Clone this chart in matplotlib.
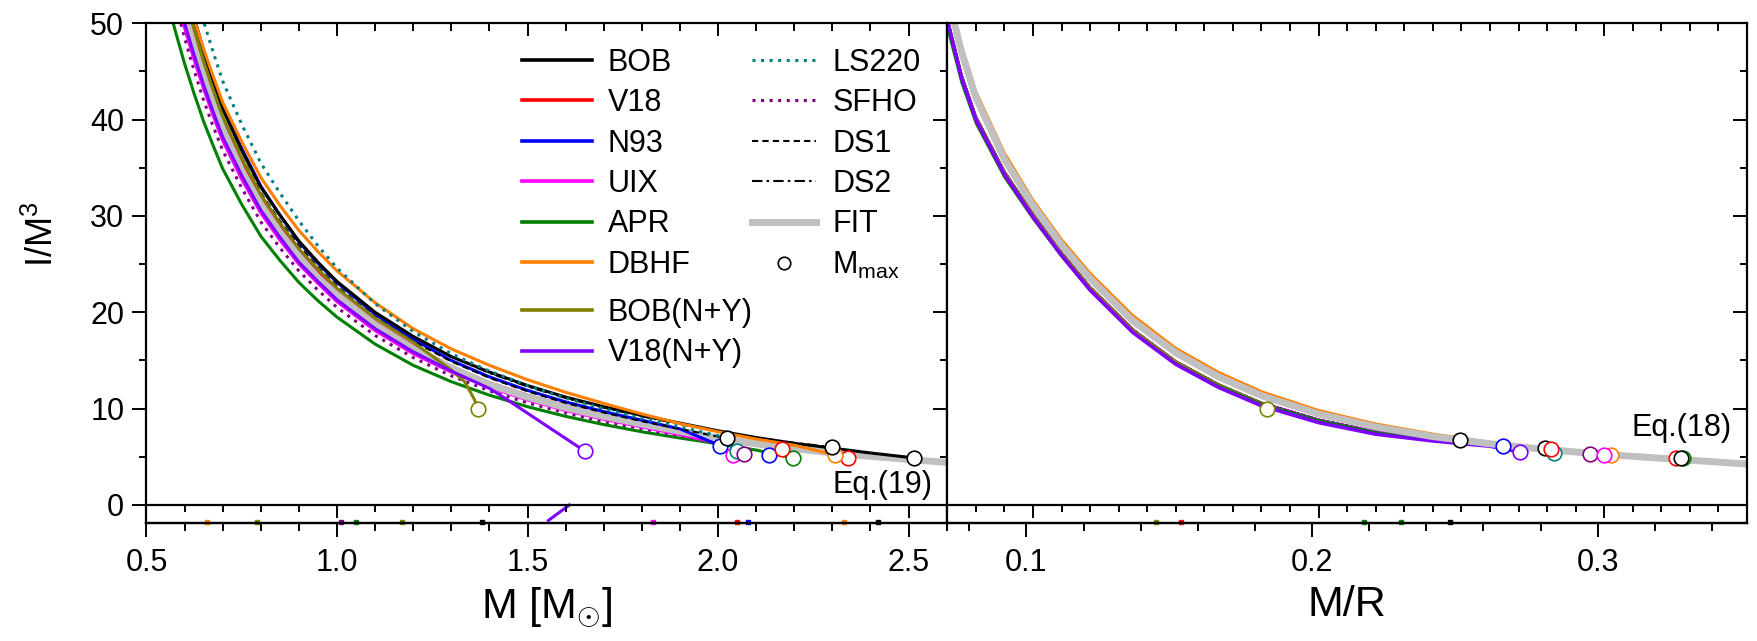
import matplotlib.pyplot as plt
from matplotlib.lines import Line2D
from matplotlib.ticker import MultipleLocator

plt.rcParams['font.family'] = ['Liberation Sans', 'DejaVu Sans']
plt.rcParams['mathtext.fontset'] = 'custom'
plt.rcParams['mathtext.rm'] = 'Liberation Sans'
plt.rcParams['mathtext.it'] = 'Liberation Sans:italic'

# ---- left panel: I/M^3 versus M ----
m_grid = [0.55, 0.575, 0.60, 0.625, 0.65, 0.675, 0.70, 0.75, 0.80, 0.85, 0.90, 0.95,
          1.00, 1.10, 1.20, 1.30, 1.40, 1.50, 1.60, 1.70, 1.80, 1.90, 2.00, 2.10,
          2.20, 2.30, 2.40, 2.50, 2.60]

fit_m = [59, 55, 51, 47.6, 44.5, 41.6, 39, 34.7, 31.2, 28.3, 25.8, 23.6,
         21.8, 18.7, 16.2, 14.2, 12.5, 11.2, 10.1, 9.2, 8.4, 7.65, 6.95, 6.35,
         5.85, 5.4, 5.05, 4.72, 4.42]
bob_m = [62, 57.9, 54, 50.4, 47, 44.0, 41.1, 36.8, 33.0, 30.1, 27.4, 25.2,
         23.2, 20.0, 17.5, 15.4, 13.8, 12.4, 11.2, 10.2, 9.3, 8.5, 7.7, 7.0,
         6.4, 5.9, 5.4, 4.95]
v18_m = [60, 55.9, 52, 48.5, 45.2, 42.3, 39.6, 35.4, 31.7, 28.8, 26.2, 24.1,
         22.1, 19.0, 16.5, 14.4, 12.7, 11.4, 10.3, 9.35, 8.5, 7.8, 7.1, 6.5,
         5.95, 5.4]
n93_m = [62.5, 58.2, 54.2, 50.6, 47.2, 44.2, 41.3, 37.0, 33.1, 30.1, 27.3, 25.1,
         23.1, 19.8, 17.2, 15.0, 13.3, 11.9, 10.7, 9.7, 8.8, 7.9]
uix_m = [57.3, 53.3, 49.5, 46.2, 43.2, 40.4, 37.8, 33.8, 30.3, 27.5, 25.0, 23.0,
         21.1, 18.1, 15.7, 13.8, 12.2, 10.9, 9.8, 8.9, 8.1, 7.3, 6.4]
apr_m = [53, 49.3, 45.8, 42.7, 39.8, 37.3, 34.9, 31.2, 27.9, 25.4, 23.1, 21.2,
         19.5, 16.7, 14.5, 12.8, 11.4, 10.2, 9.2, 8.35, 7.6, 6.95, 6.35, 5.7]
dbhf_m = [62, 57.9, 54, 50.5, 47.3, 44.5, 41.8, 37.7, 34.0, 31.1, 28.5, 26.3,
          24.3, 21.0, 18.3, 16.2, 14.5, 13.0, 11.7, 10.55, 9.45, 8.45, 7.6, 6.85,
          6.2]
ls220_m = [66, 61.6, 57.5, 53.7, 50.2, 47.0, 44.0, 39.5, 35.5, 32.4, 29.5, 26.9,
           24.6, 20.9, 18.0, 15.7, 13.9, 12.4, 11.1, 10.0, 9.0, 8.1, 7.2]
sfho_m = [56.5, 52.3, 48.5, 45.1, 42.0, 39.3, 36.8, 32.9, 29.4, 26.7, 24.3, 22.3,
          20.5, 17.6, 15.3, 13.4, 11.85, 10.6, 9.55, 8.65, 7.9, 7.2, 6.5]
ds1_m = [61, 56.9, 53, 49.4, 46, 43.1, 40.3, 36.1, 32.4, 29.5, 26.9, 24.7,
         22.7, 19.5, 17.0, 14.9, 13.2, 11.8, 10.6, 9.6, 8.7, 7.9, 7.1]
ds2_m = [62, 57.9, 54, 50.4, 47, 44.0, 41.1, 36.8, 33.0, 30.1, 27.4, 25.2,
         23.2, 20.0, 17.5, 15.4, 13.7, 12.3, 11.1, 10.1, 9.2, 8.4, 7.65, 7.0,
         6.45]
bobny_mx = [0.55, 0.575, 0.60, 0.625, 0.65, 0.675, 0.70, 0.75, 0.80, 0.85, 0.90, 0.95,
            1.00, 1.10, 1.20, 1.30, 1.335, 1.36, 1.37]
bobny_my = [61, 57, 53, 49.4, 46, 43.1, 40.3, 36.0, 32.2, 29.3, 26.6, 24.5,
            22.5, 19.4, 16.9, 14.0, 12.8, 11.0, 10.0]
v18ny_mx = [0.55, 0.575, 0.60, 0.625, 0.65, 0.675, 0.70, 0.75, 0.80, 0.85, 0.90, 0.95,
            1.00, 1.10, 1.20, 1.30, 1.40, 1.44, 1.65]
v18ny_my = [57.5, 53.6, 50, 46.7, 43.6, 40.8, 38.2, 34.2, 30.6, 27.8, 25.2, 23.2,
            21.3, 18.3, 15.9, 13.9, 12.1, 11.1, 5.6]
v18ny_tail_mx = [1.61, 1.555]
v18ny_tail_my = [0.0, -1.6]

# end points (mass, I/M^3) of the left panel curves
end_bob_m = (2.515, 4.87)
end_v18_m = (2.342, 4.87)
end_n93_m = (2.006, 6.15)
end_uix_m = (2.04, 5.2)
end_apr_m = (2.198, 4.87)
end_dbhf_m = (2.307, 5.2)
end_ls220_m = (2.049, 5.56)
end_sfho_m = (2.067, 5.3)
end_ds1_m = (2.023, 6.95)
end_ds2_m = (2.30, 6.0)

# maximum-mass configurations (left panel)
mmax_m_x = [2.515, 2.342, 2.006, 2.04, 2.198, 2.307, 2.049, 2.067, 2.023, 2.30, 2.135, 2.167]
mmax_m_y = [4.87, 4.87, 6.15, 5.2, 4.87, 5.2, 5.56, 5.3, 6.95, 6.0, 5.15, 5.8]
mmax_m_c = ['#000000', '#ff0000', '#0000ff', '#ff00ff', '#008000', '#ff8000',
            '#008080', '#800080', '#000000', '#000000', '#0000ff', '#ff0000']

# clipped marker remnants sitting on the bottom axis line
bits_m_x = [0.66, 0.79, 1.01, 1.05, 1.17, 1.38, 1.83, 2.05, 2.08, 2.33, 2.42]
bits_m_c = ['#ff8000', '#808000', '#800080', '#008000', '#808000', '#000000',
            '#ff00ff', '#ff0000', '#0000ff', '#ff8000', '#000000']
bits_c_x = [0.143, 0.152, 0.216, 0.229, 0.246]
bits_c_c = ['#808000', '#ff0000', '#008000', '#008000', '#000000']

# ---- right panel: I/M^3 versus compactness M/R ----
c_grid = [0.070, 0.075, 0.080, 0.090, 0.100, 0.110, 0.120, 0.135, 0.150, 0.165,
          0.180, 0.200, 0.220, 0.240, 0.260, 0.280, 0.300, 0.320, 0.340, 0.350]
fit_c = [53.0, 47.0, 42.3, 35.9, 31.1, 27.0, 23.5, 19.1, 15.8, 13.3,
         11.35, 9.45, 8.1, 7.1, 6.35, 5.75, 5.25, 4.85, 4.45, 4.25]
band_c = [50.5, 44.6, 40.3, 34.6, 30.2, 26.2, 22.6, 18.2, 14.9, 12.5,
          10.6, 8.85, 7.6, 6.85, 6.3, 5.75, 5.25, 4.95]
dbhf_c = [53.8, 47.8, 43.0, 36.6, 31.7, 27.6, 24.1, 19.7, 16.3, 13.8,
          11.8, 9.85, 8.45, 7.4, 6.55, 5.9]
apr_c = [49.5, 43.8, 39.6, 34.0, 29.7, 25.8, 22.3, 17.9, 14.7, 12.35,
         10.5, 8.8, 7.55, 6.8, 6.25, 5.7, 5.2, 4.92]
v18ny_c = [50.3, 44.3, 40.0, 34.3, 29.9, 25.9, 22.3, 17.9, 14.6, 12.2,
           10.3, 8.55, 7.35, 6.65, 6.1]

# end points (compactness, I/M^3) for each EOS in the right panel
end_bob_c = (0.327, 4.87)
end_v18_c = (0.3253, 4.87)
end_n93_c = (0.2646, 6.08)
end_uix_c = (0.300, 5.2)
end_apr_c = (0.3275, 4.87)
end_dbhf_c = (0.3025, 5.2)
end_bobny_c = (0.1821, 10.0)
end_v18ny_c = (0.2705, 5.5)
end_ls220_c = (0.2826, 5.35)
end_sfho_c = (0.2949, 5.3)
end_ds1_c = (0.2494, 6.74)
end_ds2_c = (0.2794, 5.9)
extra_red_c = (0.2815, 5.8)

BLACK, RED, BLUE, MAG = '#000000', '#ff0000', '#0000ff', '#ff00ff'
GREEN, ORANGE, OLIVE, VIOLET = '#008000', '#ff8000', '#808000', '#8000ff'
TEAL, PURPLE, GREY = '#008080', '#800080', '#c0c0c0'
DOT = (0, (1, 1.8))
DASH = (0, (3, 2))
DASHDOT = (0, (5, 2, 1.2, 2))

YMIN, YMAX = -1.87, 50

fig = plt.figure(figsize=(17.58, 6.41), dpi=100)
ax1 = fig.add_axes([0.08333, 0.18409, 0.45535, 0.77956])
ax2 = fig.add_axes([0.53885, 0.18409, 0.45489, 0.77956])


def curve(ax, grid, vals, end, **kw):
    xs = list(grid[:len(vals)]) + [end[0]]
    ys = list(vals) + [end[1]]
    ax.plot(xs, ys, solid_capstyle='butt', **kw)


def circle(ax, x, y, col):
    ax.plot(x, y, ls='none', marker='o', ms=10.5, mfc='white', mec=col, mew=1.2, zorder=5)


# left panel curves
lw = 2.2
curve(ax1, m_grid, v18_m, end_v18_m, color=RED, lw=lw)
curve(ax1, m_grid, apr_m, end_apr_m, color=GREEN, lw=lw)
curve(ax1, m_grid, sfho_m, end_sfho_m, color=PURPLE, lw=lw, ls=DOT)
curve(ax1, m_grid, uix_m, end_uix_m, color=MAG, lw=lw)
ax1.plot(m_grid, fit_m, color=GREY, lw=5, solid_capstyle='butt')
curve(ax1, m_grid, n93_m, end_n93_m, color=BLUE, lw=lw)
curve(ax1, m_grid, ds1_m, end_ds1_m, color=BLACK, lw=1.5, ls=DASH)
curve(ax1, m_grid, ds2_m, end_ds2_m, color=BLACK, lw=1.5, ls=DASHDOT)
curve(ax1, m_grid, bob_m, end_bob_m, color=BLACK, lw=lw)
curve(ax1, m_grid, dbhf_m, end_dbhf_m, color=ORANGE, lw=lw)
curve(ax1, m_grid, ls220_m, end_ls220_m, color=TEAL, lw=lw, ls=DOT)
ax1.plot(bobny_mx, bobny_my, color=OLIVE, lw=lw)
ax1.plot(v18ny_mx, v18ny_my, color=VIOLET, lw=lw)
ax1.plot(v18ny_tail_mx, v18ny_tail_my, color=VIOLET, lw=lw)
for x, y, c in zip(mmax_m_x, mmax_m_y, mmax_m_c):
    circle(ax1, x, y, c)
circle(ax1, bobny_mx[-1], bobny_my[-1], OLIVE)
circle(ax1, v18ny_mx[-1], v18ny_my[-1], VIOLET)
for x, c in zip(bits_m_x, bits_m_c):
    ax1.plot(x, YMIN + 0.15, ls='none', marker='s', ms=2.5, color=c, clip_on=False)

# right panel curves
lw2 = 1.6
for end, col, ls in [(end_ds1_c, BLACK, DASH), (end_ds2_c, BLACK, DASHDOT),
                     (end_bob_c, BLACK, '-'), (end_v18_c, RED, '-'),
                     (end_n93_c, BLUE, '-'), (end_uix_c, MAG, '-'),
                     (end_ls220_c, TEAL, DOT), (end_sfho_c, PURPLE, DOT),
                     (end_bobny_c, OLIVE, '-')]:
    n = sum(1 for c in c_grid if c < end[0])
    curve(ax2, c_grid, band_c[:n], end, color=col, lw=lw2, ls=ls)
curve(ax2, c_grid, apr_c, end_apr_c, color=GREEN, lw=lw2)
curve(ax2, c_grid, dbhf_c, end_dbhf_c, color=ORANGE, lw=lw2)
curve(ax2, c_grid, v18ny_c, end_v18ny_c, color=VIOLET, lw=2.6)
ax2.plot(c_grid, fit_c, color=GREY, lw=5, solid_capstyle='butt')
for end, col in [(end_bobny_c, OLIVE), (end_ds1_c, BLACK), (end_n93_c, BLUE),
                 (end_v18ny_c, VIOLET), (end_ds2_c, BLACK), (end_ls220_c, TEAL),
                 (extra_red_c, RED), (end_sfho_c, PURPLE), (end_dbhf_c, ORANGE),
                 (end_uix_c, MAG), (end_v18_c, RED), (end_apr_c, GREEN),
                 (end_bob_c, BLACK)]:
    circle(ax2, end[0], end[1], col)
for x, c in zip(bits_c_x, bits_c_c):
    ax2.plot(x, YMIN + 0.15, ls='none', marker='s', ms=2.5, color=c, clip_on=False)


def strip_axis(ax, yfrac, xlim, major, minor):
    # a thin extra axes used to draw a horizontal axis line with ticks
    pos = ax.get_position()
    o = fig.add_axes([pos.x0, pos.y0 + yfrac * pos.height, pos.width, 1e-6])
    o.set_xlim(*xlim)
    o.patch.set_visible(False)
    for side in ['top', 'left', 'right']:
        o.spines[side].set_visible(False)
    o.spines['bottom'].set_linewidth(1.6)
    o.yaxis.set_visible(False)
    o.xaxis.set_major_locator(MultipleLocator(major))
    o.xaxis.set_minor_locator(MultipleLocator(minor))
    o.tick_params(axis='x', which='both', direction='out', width=1.4, top=False)
    o.tick_params(axis='x', which='major', length=9)
    o.tick_params(axis='x', which='minor', length=5)
    return o


def style(ax, xlim, major, minor, bminor, shift, xlabel):
    ax.set_xlim(*xlim)
    ax.set_ylim(YMIN, YMAX)
    for s in ax.spines.values():
        s.set_linewidth(1.6)
    ax.xaxis.set_major_locator(MultipleLocator(major))
    ax.xaxis.set_minor_locator(MultipleLocator(minor))
    ax.tick_params(axis='x', which='both', bottom=False, labelbottom=False,
                   top=True, direction='in', width=1.4)
    ax.tick_params(axis='x', which='major', length=9)
    ax.tick_params(axis='x', which='minor', length=5.5)
    ax.yaxis.set_major_locator(MultipleLocator(10))
    ax.yaxis.set_minor_locator(MultipleLocator(5))
    # axis line at I/M^3 = 0
    strip_axis(ax, -YMIN / (YMAX - YMIN), xlim, major, minor).tick_params(labelbottom=False)
    # labelled bottom axis (slightly offset in the original figure)
    bot = strip_axis(ax, 0, (xlim[0] + shift, xlim[1] + shift), major, bminor)
    bot.xaxis.set_major_formatter(lambda v, p: f'{v:.1f}')
    bot.tick_params(axis='x', which='major', length=10, labelsize=22, pad=8)
    bot.tick_params(axis='x', which='minor', length=6)
    bot.set_xlabel(xlabel, fontsize=31, labelpad=5)


style(ax1, (0.5, 2.601), 0.5, 0.1, 0.1, 0.0, r'M [M$_{\odot}$]')
style(ax2, (0.070, 0.350), 0.1, 0.01, 0.02, 0.0023, 'M/R')

ax1.tick_params(axis='y', which='both', direction='out', left=True, right=False,
                width=1.4, labelsize=22, pad=6)
ax1.tick_params(axis='y', which='major', length=10)
ax1.tick_params(axis='y', which='minor', length=5)
rsec = ax1.secondary_yaxis('right')
rsec.set_yticks([0, 10, 20, 30, 40, 50])
rsec.yaxis.set_minor_locator(MultipleLocator(5))
rsec.tick_params(which='both', direction='in', labelright=False, width=1.4)
rsec.tick_params(which='major', length=10)
rsec.tick_params(which='minor', length=5)

ax2.tick_params(axis='y', which='both', left=False, labelleft=False, right=True,
                direction='in', width=1.4)
ax2.tick_params(axis='y', which='major', length=10)
ax2.tick_params(axis='y', which='minor', length=5)

ax1.set_ylabel(r'I/M$^3$', fontsize=26)
ax1.yaxis.set_label_coords(-0.107, 0.578)

ax1.text(2.562, 1.24, 'Eq.(19)', fontsize=22, ha='right', va='baseline')
ax2.text(0.3446, 7.12, 'Eq.(18)', fontsize=22, ha='right', va='baseline')

# legend
names_a = ['BOB', 'V18', 'N93', 'UIX', 'APR', 'DBHF']
cols_a = [BLACK, RED, BLUE, MAG, GREEN, ORANGE]
names_b = ['BOB(N+Y)', 'V18(N+Y)']
cols_b = [OLIVE, VIOLET]
names_c = ['LS220', 'SFHO', 'DS1', 'DS2', 'FIT', r'M$_{\rm max}$']

leg_kw = dict(loc='upper left', frameon=False, fontsize=22, borderpad=0,
              borderaxespad=0, labelspacing=0.34, handletextpad=0.52)
h_a = [Line2D([], [], color=c, lw=2.6) for c in cols_a]
h_b = [Line2D([], [], color=c, lw=2.6) for c in cols_b]
h_c = [Line2D([], [], color=TEAL, lw=2.2, ls=DOT),
       Line2D([], [], color=PURPLE, lw=2.2, ls=DOT),
       Line2D([], [], color=BLACK, lw=1.5, ls=DASH),
       Line2D([], [], color=BLACK, lw=1.5, ls=DASHDOT),
       Line2D([], [], color=GREY, lw=5),
       Line2D([], [], ls='none', marker='o', ms=9, mfc='white', mec=BLACK, mew=1.2)]
leg1 = ax1.legend(h_a, names_a, bbox_to_anchor=(0.469, 0.951), handlelength=2.29, **leg_kw)
ax1.add_artist(leg1)
leg2 = ax1.legend(h_b, names_b, bbox_to_anchor=(0.469, 0.4505), handlelength=2.29, **leg_kw)
ax1.add_artist(leg2)
ax1.legend(h_c, names_c, bbox_to_anchor=(0.756, 0.951), handlelength=2.12, **leg_kw)

fig.savefig('out.png', dpi=100)
